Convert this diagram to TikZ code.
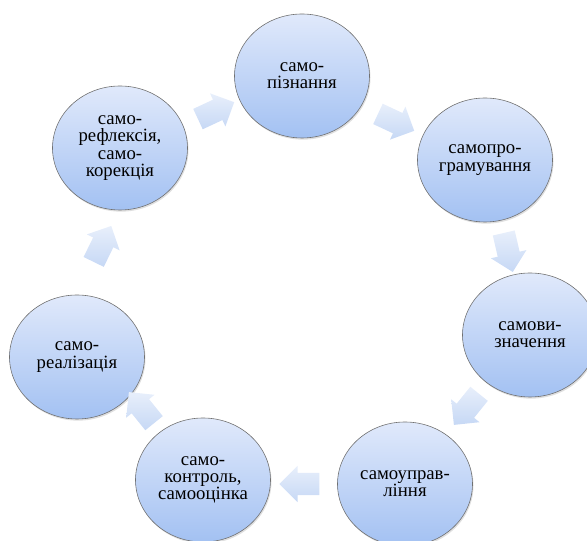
\documentclass[tikz,border=0pt]{standalone}
\usepackage{fontspec}
\newfontfamily\stagefont{Liberation Serif}
\usepackage{tikz}
\usetikzlibrary{shapes.geometric,shapes.arrows,shadows}
\definecolor{stagetop}{RGB}{224,233,251}
\definecolor{stagebot}{RGB}{163,193,242}
\definecolor{stageline}{RGB}{112,112,112}
\definecolor{arrowtop}{RGB}{232,239,251}
\definecolor{arrowbot}{RGB}{198,216,245}
\tikzset{stage node/.style={ellipse, draw=stageline, line width=0.5pt,
    minimum width=4.05cm, minimum height=3.72cm, inner sep=0pt,
    top color=stagetop, bottom color=stagebot, align=center,
    font=\stagefont\fontsize{16}{14.8}\selectfont,
    drop shadow={opacity=0.25, shadow xshift=0.03cm, shadow yshift=-0.05cm}}}
\tikzset{cycle arrow/.style={single arrow, draw=none, inner xsep=0pt, inner ysep=0.33cm,
    minimum height=1.2cm, single arrow head extend=0.21cm,
    top color=arrowtop, bottom color=arrowbot, rotate=#1}}

\begin{document}
\begin{tikzpicture}
  \useasboundingbox (0,0) rectangle (17.61,16.23);
  \begin{scope}
    \clip (0,0) rectangle (17.61,16.23);
    \node [stage node] (pizn)  at ( 9.06,13.95) {само-\\пізнання};
    \node [stage node] (progr) at (14.55,11.43) {самопро-\\грамування};
    \node [stage node] (vyzn)  at (15.90, 6.18) {самови-\\значення};
    \node [stage node] (upr)   at (12.15, 1.71) {самоуправ-\\ління};
    \node [stage node] (kontr) at ( 6.09, 1.83) {само-\\контроль,\\самооцінка};
    \node [stage node] (real)  at ( 2.31, 5.52) {само-\\реалізація};
    \node [stage node] (refl)  at ( 3.60,11.79) {само-\\рефлексія,\\само-\\корекція};

    \node [cycle arrow=25]   (refl-pizn)  at ( 6.33,12.84) {};
    \node [cycle arrow=-25]  (pizn-progr) at (11.73,12.63) {};
    \node [cycle arrow=-77]  (progr-vyzn) at (15.21, 8.82) {};
    \node [cycle arrow=-129] (vyzn-upr)   at (14.10, 4.08) {};
    \node [cycle arrow=180]  (upr-kontr)  at ( 9.15, 1.71) {};
    \node [cycle arrow=129]  (kontr-real) at ( 4.35, 3.87) {};
    \node [cycle arrow=64]   (real-refl)  at ( 3.00, 8.76) {};
  \end{scope}
\end{tikzpicture}
\end{document}
